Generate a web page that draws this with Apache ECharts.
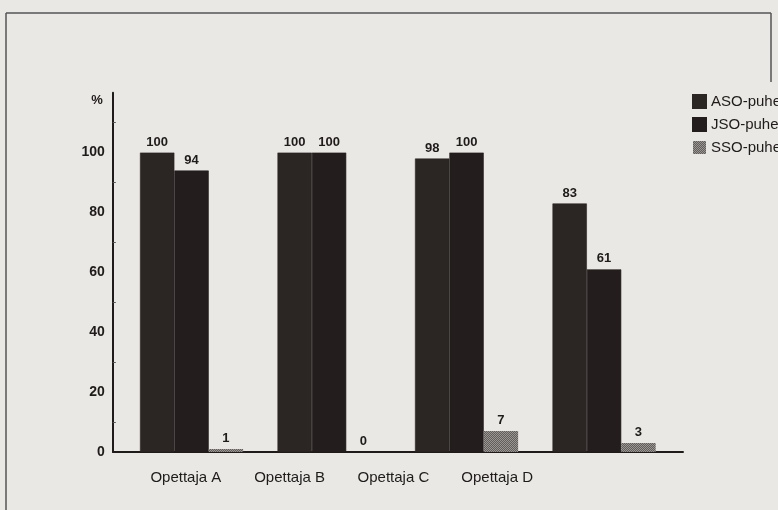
<!DOCTYPE html>
<html>
<head>
<meta charset="utf-8">
<script src="https://cdn.jsdelivr.net/npm/echarts@6/dist/echarts.min.js"></script>
<style>
  html, body { margin: 0; padding: 0; background: #e9e8e5; }
  #chart { width: 778px; height: 510px; }
</style>
</head>
<body>
<div id="chart"></div>
<script>
// data
var teachers = ['Opettaja A', 'Opettaja B', 'Opettaja C', 'Opettaja D'];
var seriesNames = ['ASO-puhe', 'JSO-puhe', 'SSO-puhe'];
var aso = [100, 100, 98, 83];
var jso = [94, 100, 100, 61];
var sso = [1, 0, 7, 3];
var yTicks = [0, 20, 40, 60, 80, 100];

var chart = echarts.init(document.getElementById('chart'));
var font = '"Liberation Sans", Arial, sans-serif';
var ink = '#1f1b1a';

function label() {
  return {
    show: true,
    position: 'top',
    distance: 4,
    color: ink,
    fontFamily: font,
    fontSize: 13,
    fontWeight: 'bold'
  };
}

var gridTop = 92.7, gridBottom = 58;

var option = {
  backgroundColor: '#e9e8e5',
  animation: false,
  textStyle: { fontFamily: font },
  legend: {
    orient: 'vertical',
    left: 687,
    top: 89,
    itemWidth: 13,
    itemHeight: 13,
    itemGap: 8,
    icon: 'rect',
    textStyle: { color: ink, fontSize: 15, fontFamily: font },
    data: seriesNames
  },
  grid: [
    // bars
    { left: 122.8, right: 105.2, top: gridTop, bottom: gridBottom },
    // baseline only
    { left: 113, right: 95, top: gridTop, bottom: gridBottom },
    // category labels
    { left: 134, width: 415, top: gridTop, bottom: gridBottom }
  ],
  xAxis: [
    {
      gridIndex: 0, type: 'category', data: teachers,
      axisLine: { show: false }, axisTick: { show: false }, axisLabel: { show: false }
    },
    {
      gridIndex: 1, type: 'value', min: 0, max: 1,
      axisLine: { show: true, lineStyle: { color: ink, width: 2 } },
      axisTick: { show: false }, axisLabel: { show: false }, splitLine: { show: false }
    },
    {
      gridIndex: 2, type: 'category', data: teachers,
      axisLine: { show: false }, axisTick: { show: false },
      axisLabel: { color: ink, fontSize: 15, fontFamily: font, margin: 18 }
    }
  ],
  yAxis: [
    {
      gridIndex: 0, type: 'value', min: 0, max: 120, interval: 20,
      offset: 10,
      name: '%',
      nameLocation: 'end',
      nameGap: -8,
      nameTextStyle: { color: ink, fontSize: 13, fontWeight: 'bold', align: 'right', verticalAlign: 'middle', padding: [0, 10, 0, 0] },
      axisLine: { show: true, lineStyle: { color: ink, width: 2 } },
      axisTick: { show: false, inside: true },
      minorTick: { show: true, splitNumber: 2, length: 3, lineStyle: { color: '#555', width: 1 } },
      splitLine: { show: false },
      axisLabel: {
        color: ink, fontSize: 14, fontWeight: 'bold', margin: 8,
        formatter: function (v) { return yTicks.indexOf(v) >= 0 ? String(v) : ''; }
      }
    },
    { gridIndex: 1, type: 'value', min: 0, max: 120, show: false },
    { gridIndex: 2, type: 'value', min: 0, max: 120, show: false }
  ],
  series: [
    {
      name: seriesNames[0], type: 'bar', data: aso,
      barGap: 0, barCategoryGap: '25%',
      itemStyle: { color: '#2b2523', borderColor: '#2b2523', borderWidth: 0.6 },
      label: label()
    },
    {
      name: seriesNames[1], type: 'bar', data: jso,
      itemStyle: { color: '#231e1d', borderColor: '#231e1d', borderWidth: 0.6 },
      label: label()
    },
    {
      name: seriesNames[2], type: 'bar', data: sso,
      itemStyle: {
        color: '#9a9694',
        decal: {
          symbol: 'rect', symbolSize: 1,
          dashArrayX: [[1, 1], [0, 1, 1, 0]],
          dashArrayY: [1, 0],
          color: 'rgba(60,55,53,0.6)'
        }
      },
      label: label()
    }
  ],
  graphic: [
    { type: 'line', shape: { x1: 6, y1: 13, x2: 771, y2: 13 }, style: { stroke: '#555', lineWidth: 1.5 } },
    { type: 'line', shape: { x1: 6, y1: 13, x2: 6, y2: 510 }, style: { stroke: '#555', lineWidth: 1.5 } },
    { type: 'line', shape: { x1: 771, y1: 13, x2: 771, y2: 82 }, style: { stroke: '#555', lineWidth: 1.5 } }
  ]
};

chart.setOption(option);
</script>
</body>
</html>
